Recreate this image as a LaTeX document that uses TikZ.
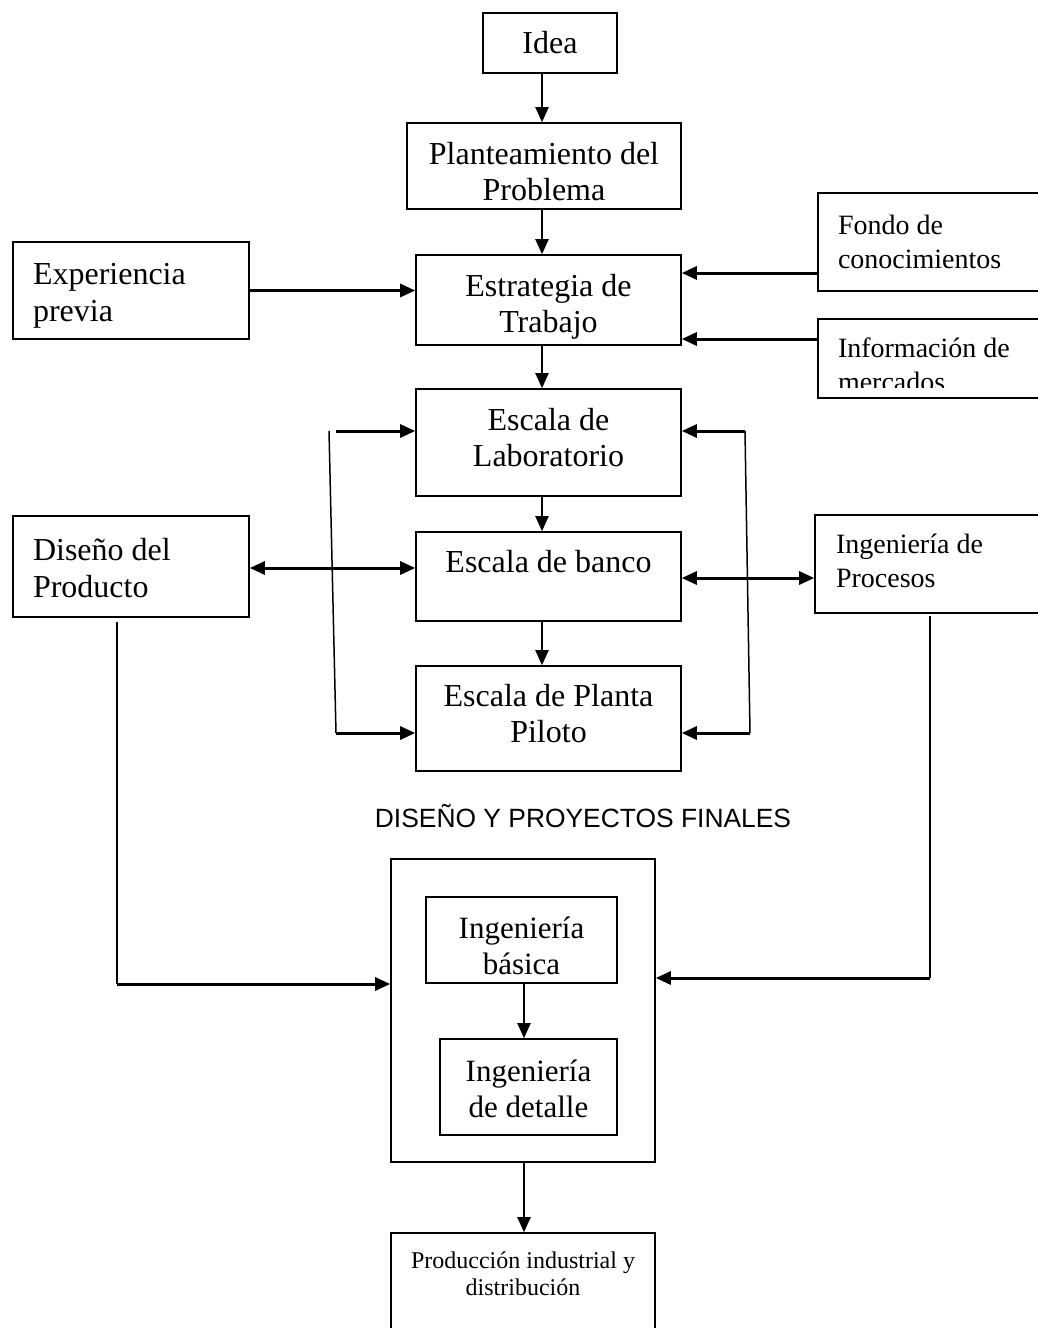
\documentclass[tikz,border=0pt]{standalone}
\usepackage{fontspec}
\setmainfont{Liberation Serif}
\newfontfamily\arialf{Liberation Sans}
\usetikzlibrary{arrows.meta,calc}
\begin{document}
\begin{tikzpicture}[x=1pt,y=-1pt,>={Triangle[length=15pt,width=13pt]}, line join=miter]
		\tikzset{
			box/.style={draw, line width=1.6pt, rectangle, align=center, inner sep=0pt, font=\fontsize{32}{36}\selectfont},
			lbox/.style={box, align=flush left, inner xsep=20pt, text width=196pt, font=\fontsize{32}{37}\selectfont},
			rbox/.style={box, align=flush left, inner xsep=20pt, text width=222pt, font=\fontsize{28}{34}\selectfont},
			ibox/.style={box, font=\fontsize{31}{36}\selectfont},
			rotulo/.style={align=center, inner sep=0pt, font=\fontsize{32}{36}\selectfont},
			flecha/.style={->, line width=2pt},
			hflecha/.style={->, line width=3pt},
			linea/.style={line width=1.5pt}
		}
		\useasboundingbox (0,0) rectangle (1038,1328);
		\clip (0,0) rectangle (1038,1328);
		% cajas
		\node[box, minimum width=134, minimum height=60] (idea) at (550,43) {Idea};
		\node[box, minimum width=274, minimum height=86,
			label={[rotulo, yshift=-6pt]center:{Planteamiento del\\Problema}}] (plant) at (544,166) {};
		\node[box, minimum width=265, minimum height=90,
			label={[rotulo, yshift=-7pt]center:{Estrategia de\\Trabajo}}] (estr) at (548.5,300) {};
		\node[box, minimum width=236, minimum height=97,
			label={[rotulo, align=flush left, text width=196pt, font=\fontsize{32}{37}\selectfont, yshift=-5pt]center:{Experiencia\\previa}}] (exp) at (131,290.5) {};
		\node[rbox, minimum height=98] (fondo) at (949,242) {Fondo de\\conocimientos};
		\node[box, minimum width=262, minimum height=79,
			label={[rotulo, align=flush left, text width=222pt, font=\fontsize{28}{34}\selectfont, yshift=-6pt]center:{Información de\\mercados}}] (info) at (949,358.5) {};
		\fill[white] (820,388) rectangle (1038,396.5); % texto cortado
		\node[box, minimum width=265, minimum height=107,
			label={[rotulo, yshift=5pt]center:{Escala de\\Laboratorio}}] (lab) at (548.5,442.5) {};
		\node[box, minimum width=265, minimum height=89, text depth=30pt] (banco) at (548.5,576.5) {Escala de banco};
		\node[lbox, minimum height=101,
			label={[rotulo, align=flush left, text width=196pt, font=\fontsize{32}{37}\selectfont, yshift=-2pt]center:{Diseño del\\Producto}}] (diseno) at (131,566.5) {};
		\node[box, minimum width=264, minimum height=98,
			label={[rotulo, align=flush left, text width=222pt, font=\fontsize{28}{34}\selectfont, yshift=3pt]center:{Ingeniería de\\Procesos}}] (proc) at (947,564) {};
		\node[box, minimum width=265, minimum height=105,
			label={[rotulo, yshift=5pt]center:{Escala de Planta\\Piloto}}] (piloto) at (548.5,718.5) {};
		\node[font=\arialf\fontsize{26.4}{30}\selectfont] (titulo) at (583,816) {DISEÑO Y PROYECTOS FINALES};
		\node[box, minimum width=264, minimum height=303] (outer) at (523,1010.5) {};
		\node[ibox, minimum width=191, minimum height=86,
			label={[rotulo, font=\fontsize{31}{36}\selectfont, yshift=-6pt]center:{Ingeniería\\básica}}] (basica) at (521.5,940) {};
		\node[ibox, minimum width=177, minimum height=96,
			label={[rotulo, font=\fontsize{31}{36}\selectfont, yshift=-2pt]center:{Ingeniería\\de detalle}}] (detalle) at (528.5,1087) {};
		\node[box, font=\fontsize{24}{27}\selectfont, minimum width=264, minimum height=117, text depth=35pt] (prod) at (523,1291.5) {Producción industrial y\\distribución};
		% flechas
		\coordinate (eje) at (542,0);
		\coordinate (eje2) at (524,0);
		\draw[flecha] (idea.south -| eje) -- (plant.north -| eje);
		\draw[flecha] (plant.south -| eje) -- (estr.north -| eje);
		\draw[flecha] (estr.south -| eje) -- (lab.north -| eje);
		\draw[flecha] (lab.south -| eje) -- (banco.north -| eje);
		\draw[flecha] (banco.south -| eje) -- (piloto.north -| eje);
		\draw[hflecha] (exp.east) -- (exp.east -| estr.west);
		\draw[hflecha] ($(fondo.west)+(0,31)$) -- ($(fondo.west -| estr.east)+(0,31)$);
		\draw[hflecha] ($(info.west)+(0,-19.5)$) -- ($(info.west -| estr.east)+(0,-19.5)$);
		\draw[hflecha,<->] (diseno.east |- 0,568) -- (banco.west |- 0,568);
		\draw[hflecha,<->] (banco.east |- 0,578) -- (proc.west |- 0,578);
		% lazos laterales
		\coordinate (lt) at (329,431);
		\coordinate (lb) at (336,733);
		\draw[linea] (lt) -- (lb);
		\draw[hflecha] (lt -| lb) -- (lt -| lab.west);
		\draw[hflecha] (lb) -- (lb -| piloto.west);
		\coordinate (rt) at (745,431);
		\coordinate (rb) at (750,733);
		\draw[linea] (rb) -- (rt);
		\draw[hflecha] (rt) -- (rt -| lab.east);
		\draw[hflecha] (rb) -- (rb -| piloto.east);
		% hacia el diseno final
		\coordinate (dl) at (117,984);
		\draw[linea] ($(diseno.south -| dl)+(0,4)$) -- (dl);
		\draw[hflecha] (dl) -- (dl -| outer.west);
		\coordinate (pr) at (930,978);
		\draw[linea] ($(proc.south -| pr)+(0,2)$) -- (pr);
		\draw[hflecha] (pr) -- (pr -| outer.east);
		\draw[flecha] (basica.south -| eje2) -- (detalle.north -| eje2);
		\draw[flecha] (outer.south -| eje2) -- (prod.north -| eje2);
	\end{tikzpicture}
\end{document}
